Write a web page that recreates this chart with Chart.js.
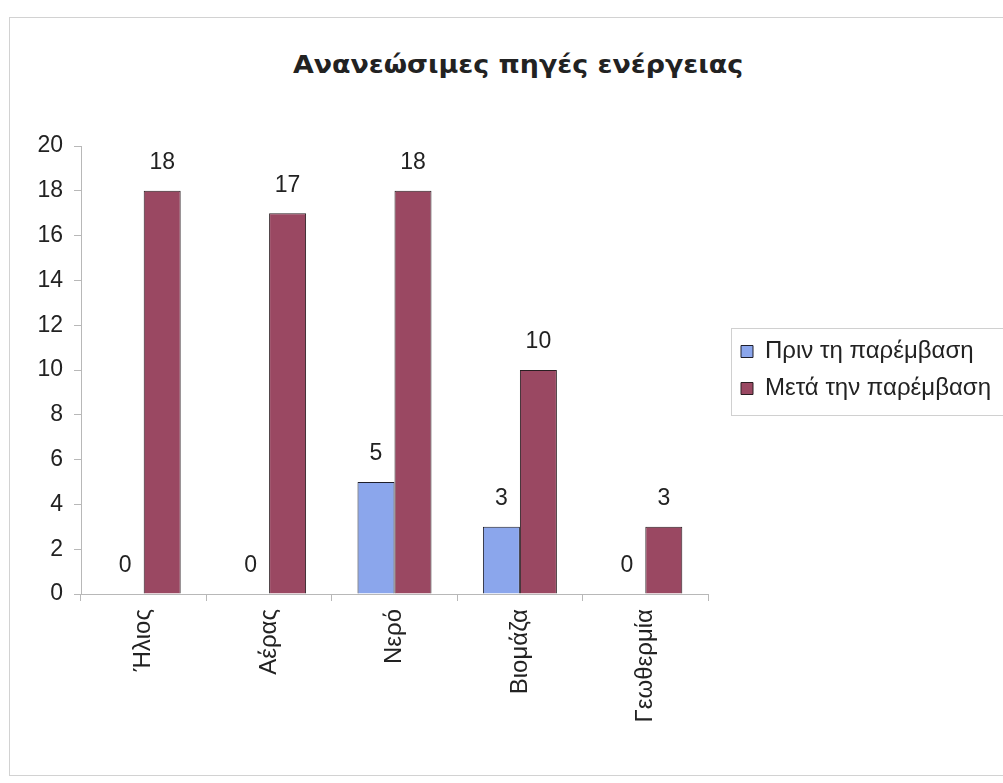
<!DOCTYPE html>
<html lang="el">
<head>
<meta charset="utf-8">
<title>Ανανεώσιμες πηγές ενέργειας</title>
<script src="https://cdn.jsdelivr.net/npm/chart.js@4.4.1/dist/chart.umd.min.js"></script>
<style>
  html, body { margin: 0; padding: 0; background: #fff; width: 1003px; height: 783px; overflow: hidden; }
  #frame { position: absolute; left: 9px; top: 17px; width: 1100px; height: 759px; border: 1px solid #d2d2d2; box-sizing: border-box; }
  #title { position: absolute; left: 0; top: 44px; width: 1036px; line-height: 42px; text-align: center;
           font-family: "DejaVu Sans", sans-serif; font-weight: bold; font-size: 24px; color: #222;
           transform: scaleX(1.12); transform-origin: 518px 50%; }
  #c { position: absolute; left: 0; top: 0; }
</style>
</head>
<body>
<div id="frame"></div>
<div id="title">Ανανεώσιμες πηγές ενέργειας</div>
<canvas id="c" width="1100" height="783"></canvas>
<script>
// Categories and series
const categories = ['Ήλιος', 'Αέρας', 'Νερό', 'Βιομάζα', 'Γεωθερμία'];
const seriesNames = ['Πριν τη παρέμβαση', 'Μετά την παρέμβαση'];
const beforeValues = [0, 0, 5, 3, 0];
const afterValues = [18, 17, 18, 10, 3];
const yMin = 0, yMax = 20, yStep = 2;

const FONT = '"Liberation Sans", Arial, sans-serif';
const TEXT = '#222222';
const AXIS = '#b8b8b8';
const LEGEND_SIZE = 24;
const LEGEND_PAD = 13;
const LEGEND_BOX = 12;
const GAP_WIDTH = 20;
const PLOT_RIGHT = 708;

// Size the canvas so the plot ends where it should, leaving the legend text room on the right
const canvas = document.getElementById('c');
const mctx = document.createElement('canvas').getContext('2d');
mctx.font = LEGEND_SIZE + 'px ' + FONT;
const widest = Math.max(...seriesNames.map(s => mctx.measureText(s).width));
const legendWidth = LEGEND_PAD + LEGEND_BOX + LEGEND_SIZE / 2 + widest + 10;
const canvasWidth = Math.ceil(PLOT_RIGHT + GAP_WIDTH + legendWidth + 60);
canvas.width = canvasWidth;
const rightPad = canvasWidth - PLOT_RIGHT - GAP_WIDTH - legendWidth;

// Numbers written above each bar
const valueLabels = {
  id: 'valueLabels',
  afterDatasetsDraw(chart) {
    const ctx = chart.ctx;
    ctx.save();
    ctx.font = '23px ' + FONT;
    ctx.fillStyle = TEXT;
    ctx.textAlign = 'center';
    ctx.textBaseline = 'middle';
    chart.data.datasets.forEach((ds, i) => {
      chart.getDatasetMeta(i).data.forEach((bar, j) => {
        ctx.fillText(String(ds.data[j]), bar.x, bar.y - 28);
      });
    });
    ctx.restore();
  }
};

// Thin frame around the legend
const legendFrame = {
  id: 'legendFrame',
  afterDraw(chart) {
    const lg = chart.legend;
    const hb = lg.legendHitBoxes;
    if (!hb || !hb.length) return;
    const ctx = chart.ctx;
    const left = Math.round(lg.left + 3) + 0.5;
    const top = Math.round(hb[0].top - 12) + 0.5;
    const last = hb[hb.length - 1];
    const bottom = Math.round(last.top + last.height + 14) + 0.5;
    ctx.save();
    ctx.strokeStyle = '#d0d0d0';
    ctx.lineWidth = 1;
    ctx.strokeRect(left, top, chart.width - left + 10, bottom - top);
    ctx.restore();
  }
};

new Chart(canvas, {
  type: 'bar',
  data: {
    labels: categories,
    datasets: [
      { label: seriesNames[0], data: beforeValues, backgroundColor: '#8ba6ec', borderColor: '#1e1e2a', borderWidth: 1 },
      { label: seriesNames[1], data: afterValues, backgroundColor: '#9a4862', borderColor: '#2a1e22', borderWidth: 1 }
    ]
  },
  options: {
    responsive: false,
    animation: false,
    devicePixelRatio: 1,
    categoryPercentage: 0.59,
    barPercentage: 1,
    layout: { padding: { top: 146, left: 0, right: rightPad, bottom: 0 } },
    plugins: {
      title: { display: false },
      tooltip: { enabled: false },
      legend: {
        position: 'right',
        align: 'center',
        fullSize: false,
        maxWidth: 600,
        labels: { boxWidth: LEGEND_BOX, boxHeight: LEGEND_BOX, padding: LEGEND_PAD, color: TEXT, font: { family: FONT, size: LEGEND_SIZE } }
      }
    },
    scales: {
      x: {
        grid: { offset: true, drawOnChartArea: false, drawTicks: true, tickLength: 7, color: AXIS },
        border: { color: AXIS },
        ticks: { color: TEXT, font: { family: FONT, size: 24 }, minRotation: 90, maxRotation: 90, padding: 8, autoSkip: false },
        afterFit(s) { s.height = 189; }
      },
      y: {
        min: yMin, max: yMax,
        grid: { drawOnChartArea: false, drawTicks: true, tickLength: 7, color: AXIS },
        border: { color: AXIS },
        ticks: { stepSize: yStep, color: TEXT, font: { family: FONT, size: 23 }, padding: 11 },
        afterFit(s) { s.width = 81; }
      },
      gap: {
        type: 'linear', position: 'right', display: true,
        grid: { display: false }, border: { display: false }, ticks: { display: false },
        afterFit(s) { s.width = GAP_WIDTH; }
      }
    }
  },
  plugins: [valueLabels, legendFrame]
});
</script>
</body>
</html>
